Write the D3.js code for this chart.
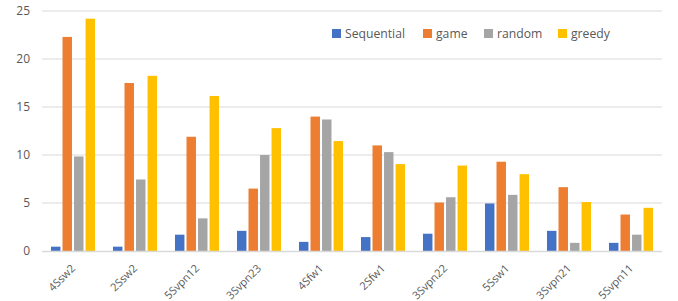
<!DOCTYPE html>
<html><head><meta charset="utf-8">
<script src="https://cdn.jsdelivr.net/npm/d3@7"></script>
<style>body{margin:0;background:#fff;} svg{display:block;}</style>
</head><body>
<svg id="chart" width="678" height="301"></svg>
<script>
const categories = ["4Ssw2","2Ssw2","5Svpn12","3Svpn23","4Sfw1","2Sfw1","3Svpn22","5Ssw1","3Svpn21","5Svpn11"];
const seriesNames = ["Sequential","game","random","greedy"];
const sequential = [0.45,0.45,1.7,2.1,0.95,1.45,1.8,4.95,2.1,0.85];
const game = [22.3,17.5,11.9,6.5,14.0,11.0,5.05,9.3,6.65,3.8];
const random = [9.85,7.45,3.4,10.0,13.7,10.3,5.6,5.85,0.85,1.7];
const greedy = [24.2,18.25,16.15,12.8,11.45,9.05,8.9,8.0,5.1,4.5];
const yTicks = [0,5,10,15,20,25];
const colors = ["#4472C4","#ED7D31","#A5A5A5","#FFC000"];

(function() {
const values = [sequential, game, random, greedy];
const svg = d3.select("#chart");
const mLeft = 42, mRight = 662, mTop = 11, mBottom = 251;

const x = d3.scaleBand().domain(categories).range([mLeft, mRight]).paddingInner(0).paddingOuter(0);
const xs = d3.scaleBand().domain(seriesNames).range([0, x.bandwidth()]).paddingInner(0.18).paddingOuter(0.78);
const y = d3.scaleLinear().domain([0, 25]).range([mBottom, mTop]);

svg.append("g").selectAll("line").data(yTicks.filter(d => d > 0)).join("line")
  .attr("x1", mLeft).attr("x2", mRight)
  .attr("y1", d => y(d)).attr("y2", d => y(d))
  .attr("stroke", "#d9d9d9").attr("stroke-width", 1);

const yAxis = d3.axisLeft(y).tickValues(yTicks).tickSize(0).tickPadding(12);
const yg = svg.append("g").attr("transform", `translate(${mLeft},0)`).call(yAxis);
yg.select(".domain").remove();
yg.selectAll("text").attr("fill", "#595959").style("font-family", "'Open Sans', sans-serif").style("font-size", "12px");

const groups = svg.append("g").selectAll("g").data(seriesNames).join("g")
  .attr("fill", (d, i) => colors[i]);
groups.each(function(s, si) {
  d3.select(this).selectAll("rect").data(categories).join("rect")
    .attr("x", c => x(c) + xs(s))
    .attr("width", xs.bandwidth())
    .attr("y", (c, ci) => y(values[si][ci]))
    .attr("height", (c, ci) => y(0) - y(values[si][ci]));
});

svg.append("line").attr("x1", mLeft).attr("x2", mRight).attr("y1", y(0) + 0.5).attr("y2", y(0) + 0.5)
  .attr("stroke", "#d9d9d9").attr("stroke-width", 1.5);

svg.append("g").selectAll("text").data(categories).join("text")
  .attr("transform", c => `translate(${x(c) + x.bandwidth() / 2 + 3},${y(0) + 18}) rotate(-45)`)
  .attr("text-anchor", "end")
  .attr("fill", "#595959")
  .style("font-family", "'Open Sans', sans-serif").style("font-size", "11px")
  .text(c => c);

const legendX = [332, 423, 484, 558];
const lg = svg.append("g").selectAll("g").data(seriesNames).join("g")
  .attr("transform", (d, i) => `translate(${legendX[i]},29)`);
lg.append("rect").attr("width", 9).attr("height", 9).attr("fill", (d, i) => colors[i]);
lg.append("text").attr("x", 13).attr("y", 9).attr("fill", "#595959")
  .style("font-family", "'Open Sans', sans-serif").style("font-size", "12.2px")
  .text(d => d);
})();
</script>
</body></html>
